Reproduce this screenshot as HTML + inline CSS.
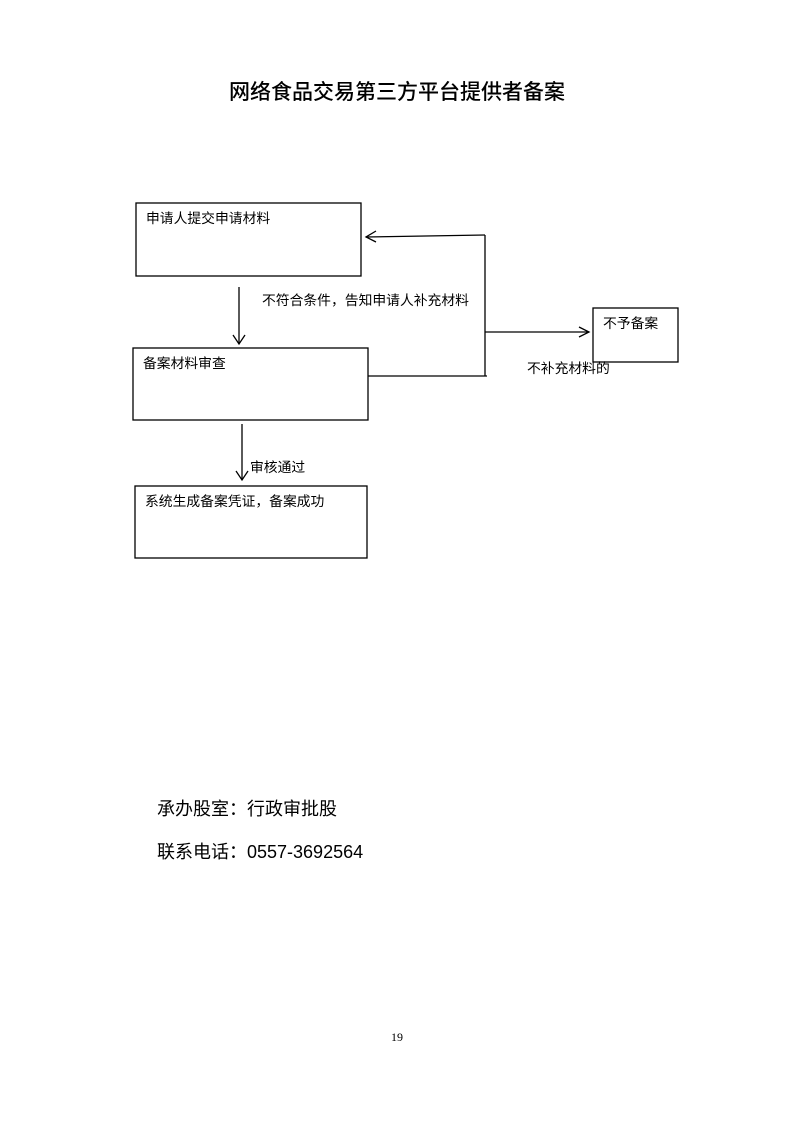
<!DOCTYPE html>
<html><head><meta charset="utf-8"><style>
html,body{margin:0;padding:0;background:#fff;}
body{width:793px;height:1122px;position:relative;overflow:hidden;}
svg{position:absolute;left:0;top:0;}
text{font-family:"Liberation Sans","Noto Sans CJK SC",sans-serif;fill:#000;}
</style></head><body>
<svg width="793" height="1122" viewBox="0 0 793 1122">
<text x="397" y="99" font-size="21" text-anchor="middle" font-weight="500">网络食品交易第三方平台提供者备案</text>
<g fill="none" stroke="#000" stroke-width="1.3">
<rect x="136" y="203" width="225" height="73"/>
<rect x="133" y="348" width="235" height="72"/>
<rect x="135" y="486" width="232" height="72"/>
<rect x="593" y="308" width="85" height="54"/>
<line x1="239" y1="287" x2="239" y2="344"/>
<polyline points="233,335 239,344 245,335"/>
<line x1="242" y1="424" x2="242" y2="480"/>
<polyline points="236,471 242,480 248,471"/>
<line x1="368" y1="376" x2="487" y2="376"/>
<line x1="485" y1="235" x2="485" y2="376"/>
<line x1="485" y1="235" x2="366" y2="237"/>
<polyline points="376,231 366,237 376,242"/>
<line x1="485" y1="332" x2="589" y2="332"/>
<polyline points="579,327 589,332 579,337"/>
</g>
<g font-size="13.8">
<text x="146" y="223">申请人提交申请材料</text>
<text x="143" y="368">备案材料审查</text>
<text x="145" y="506">系统生成备案凭证，备案成功</text>
<text x="603" y="328">不予备案</text>
<text x="262" y="305">不符合条件，告知申请人补充材料</text>
<text x="527" y="373">不补充材料的</text>
<text x="250" y="472">审核通过</text>
</g>
<g font-size="18" style="font-family:'Liberation Mono','Noto Serif CJK SC',serif">
<text x="157" y="815">承办股室：行政审批股</text>
<text x="157" y="858">联系电话：0557-3692564</text>
</g>
<text x="397" y="1041" font-size="12" text-anchor="middle" style="font-family:'Liberation Serif',serif">19</text>
</svg>
</body></html>
